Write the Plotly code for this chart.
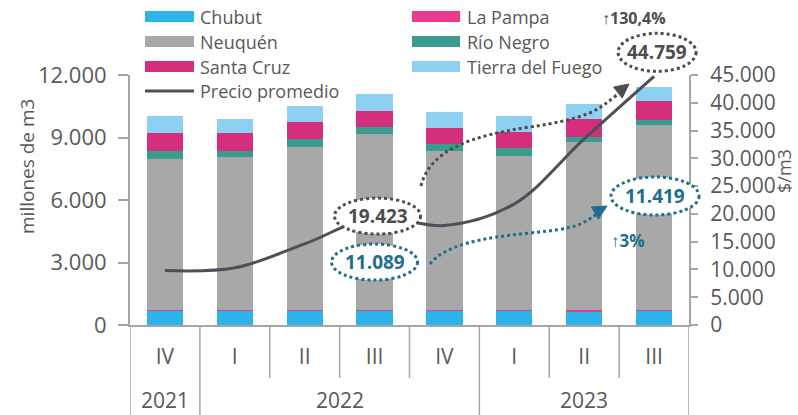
import math
import plotly.graph_objects as go

# ---------------- data ----------------
years = ["2021", "2022", "2022", "2022", "2022", "2023", "2023", "2023"]
quarters = ["IV", "I", "II", "III", "IV", "I", "II", "III"]

chubut = [700, 700, 700, 700, 700, 690, 670, 690]
la_pampa = [40, 40, 40, 40, 40, 40, 40, 40]
neuquen = [7214, 7310, 7818, 8414, 7612, 7396, 8060, 8870]
rio_negro = [410, 320, 370, 335, 320, 350, 270, 240]
santa_cruz = [860, 860, 820, 800, 800, 800, 830, 910]
tierra_fuego = [820, 640, 760, 800, 740, 770, 740, 669]
precio = [9800, 10300, 14600, 19423, 17900, 21800, 33500, 44759]

series = [
    ("Chubut", chubut, "#2DB5EA"),
    ("La Pampa", la_pampa, "#EC3A8C"),
    ("Neuquén", neuquen, "#A8A8A8"),
    ("Río Negro", rio_negro, "#3A9C8C"),
    ("Santa Cruz", santa_cruz, "#D42F7C"),
    ("Tierra del Fuego", tierra_fuego, "#8ED0F2"),
]
LINE_COLOR = "#4F4F5A"
TEAL = "#1F6E8C"
DARK = "#4D4D4D"
TXT = "#595959"
AX = "#A6A6A6"
FONT = "Open Sans"

W, H = 798, 415
ML, MR, MT, MB = 130, 109, 75, 90
PW, PH = W - ML - MR, H - MT - MB
Y1MAX, Y2MAX = 12000, 45000
N = len(quarters)
xs = list(range(N))


def px(x):
    return (x - ML) / PW


def py(y):
    return (H - MB - y) / PH


def cat_x(i):  # pixel x of category centre
    return ML + PW * (i + 0.5) / N


def y2_px(v):
    return H - MB - PH * v / Y2MAX


def fmt(v):
    return f"{v:,.0f}".replace(",", ".")


fig = go.Figure()
for name, vals, col in series:
    fig.add_trace(go.Bar(x=xs, y=vals, name=name, marker_color=col,
                         marker_line_width=0, showlegend=False))
fig.add_trace(go.Scatter(x=xs, y=precio, name="Precio promedio", yaxis="y2",
                         mode="lines", line=dict(color=LINE_COLOR, width=3, shape="spline", smoothing=1),
                         showlegend=False))

shapes = []
annotations = []


def text_at(x, y, text, size, color, xanchor="center", angle=0, xref="paper"):
    annotations.append(dict(xref=xref, yref="paper", x=x if xref != "paper" else px(x), y=py(y),
                            text=text, showarrow=False, xanchor=xanchor, yanchor="middle",
                            textangle=angle, font=dict(family=FONT, size=size, color=color)))


# ---------------- custom legend ----------------
leg_rows = [16.5, 41.5, 66.5]
leg_items = [
    (0, 0, "Chubut"), (1, 0, "La Pampa"),
    (2, 1, "Neuquén"), (3, 1, "Río Negro"),
    (4, 2, "Santa Cruz"), (5, 2, "Tierra del Fuego"),
]
col_x = [(145, 194, 198), (412, 460, 465)]
for k, (si, row, label) in enumerate(leg_items):
    c = k % 2
    x0, x1, tx = col_x[c]
    yc = leg_rows[row]
    shapes.append(dict(type="rect", xref="paper", yref="paper", x0=px(x0), x1=px(x1),
                       y0=py(yc + 5.5), y1=py(yc - 5.5), fillcolor=series[si][2], line_width=0))
    text_at(tx, yc, label, 18, TXT, xanchor="left")
shapes.append(dict(type="line", xref="paper", yref="paper", x0=px(145), x1=px(194),
                   y0=py(91), y1=py(91), line=dict(color=LINE_COLOR, width=3)))
text_at(198, 91, "Precio promedio", 18, TXT, xanchor="left")

# ---------------- axis titles ----------------
text_at(27, 166, "millones de m3", 19, TXT, angle=-90)
text_at(784, 171, "$/m3", 18, TXT, angle=-90)

# ---------------- x-axis separators and year labels ----------------
bounds_year = [-0.5]
for i in range(1, N):
    if years[i] != years[i - 1]:
        bounds_year.append(i - 0.5)
bounds_year.append(N - 0.5)
for i in range(N + 1):
    b = i - 0.5
    full = b in bounds_year
    shapes.append(dict(type="line", xref="x", yref="paper", x0=b, x1=b,
                       y0=0, y1=py(415 if full else 378),
                       line=dict(color=AX, width=1.5)))
for k in range(len(bounds_year) - 1):
    a, b = bounds_year[k], bounds_year[k + 1]
    text_at((a + b) / 2, 400, years[int(a + 0.5)], 21, TXT, xref="x")

# ---------------- callouts ----------------
totals = [sum(v[i] for _, v, _ in series) for i in range(N)]
i0, i1 = 3, N - 1


def oval(cx, cy, hw, hh, color, text):
    shapes.append(dict(type="circle", xref="paper", yref="paper", layer="above",
                       x0=px(cx - hw), x1=px(cx + hw), y0=py(cy + hh), y1=py(cy - hh),
                       fillcolor="white", line=dict(color=color, width=3, dash="3px,3px")))
    text_at(cx, cy, f"<b>{text}</b>", 19, color)


c0 = cat_x(i0)
c1 = cat_x(i1)
oval(c0 + 3, y2_px(precio[i0]) - 1, 43, 18, DARK, fmt(precio[i0]))
oval(c0 + 0, y2_px(precio[i0]) + 45, 43, 18, TEAL, fmt(totals[i0]))
oval(c1 + 3, y2_px(precio[i1]) - 24, 39, 19, DARK, fmt(precio[i1]))
oval(c1 + 1, 196, 44, 19, TEAL, fmt(totals[i1]))

pct_price = (precio[i1] / precio[i0] - 1) * 100
pct_vol = (totals[i1] / totals[i0] - 1) * 100
text_at(634, 18, f"<b>↑{pct_price:.1f}%</b>".replace(".", ","), 16, DARK)
text_at(628, 241, f"<b>↑{pct_vol:.0f}%</b>", 17, TEAL)


def pathstr(pts):
    cmds = []
    for p in pts:
        if isinstance(p, str):
            cmds.append(p)
        else:
            cmds.append(f"{px(p[0]):.5f},{py(p[1]):.5f}")
    return " ".join(cmds)


# dotted curved arrows
shapes.append(dict(type="path", xref="paper", yref="paper", layer="above",
                   path=pathstr(["M", (421, 186), "C", (430, 150), (470, 136), (530, 127),
                                 "S", (598, 110), (618, 94)]),
                   line=dict(color=DARK, width=3, dash="3px,3px")))
shapes.append(dict(type="path", xref="paper", yref="paper", layer="above",
                   path=pathstr(["M", (430, 264), "C", (445, 245), (480, 238), (530, 233),
                                 "S", (580, 225), (597, 214)]),
                   line=dict(color=TEAL, width=3, dash="3px,3px")))


def arrowhead(tip, d, color, L=14, hw=7):
    n = math.hypot(*d)
    ux, uy = d[0] / n, d[1] / n
    bx, by = tip[0] - ux * L, tip[1] - uy * L
    p1 = (bx - uy * hw, by + ux * hw)
    p2 = (bx + uy * hw, by - ux * hw)
    shapes.append(dict(type="path", xref="paper", yref="paper", layer="above",
                       path=pathstr(["M", tip, "L", p1, "L", p2, "Z"]),
                       fillcolor=color, line=dict(color=color, width=1)))


arrowhead((629, 84), (31, -24), DARK)
arrowhead((607, 206), (24, -14), TEAL)

tickfont = dict(family=FONT, size=21, color=TXT)
fig.update_layout(
    template="none",
    width=W, height=H, margin=dict(l=ML, r=MR, t=MT, b=MB, pad=0),
    paper_bgcolor="white", plot_bgcolor="white",
    barmode="stack", bargap=0.48, showlegend=False,
    separators=",.",
    font=dict(family=FONT, color=TXT),
    xaxis=dict(range=[-0.5, N - 0.5], tickvals=xs, ticktext=quarters, showgrid=False,
               zeroline=False, showline=True, linecolor=AX, linewidth=2, ticks="",
               tickfont=tickfont, ticklabelstandoff=12, automargin=False),
    yaxis=dict(range=[0, Y1MAX], dtick=3000, tickformat=",d", showgrid=False, zeroline=False,
               showline=True, linecolor=AX, linewidth=2, ticks="outside", ticklen=10,
               tickcolor=AX, tickwidth=1.5, tickfont=dict(family=FONT, size=22, color=TXT),
               ticklabelstandoff=7, automargin=False),
    yaxis2=dict(range=[0, Y2MAX], dtick=5000, tickformat=",d", showgrid=False, zeroline=False,
                overlaying="y", side="right", showline=True, linecolor=AX, linewidth=2,
                ticks="outside", ticklen=7, tickcolor=AX, tickwidth=1.5, tickfont=tickfont,
                ticklabelstandoff=8, automargin=False),
    shapes=shapes, annotations=annotations,
)
fig.write_html("out.html", config={"displayModeBar": False},
               post_script="document.body.style.margin='0';document.body.style.padding='0';")
